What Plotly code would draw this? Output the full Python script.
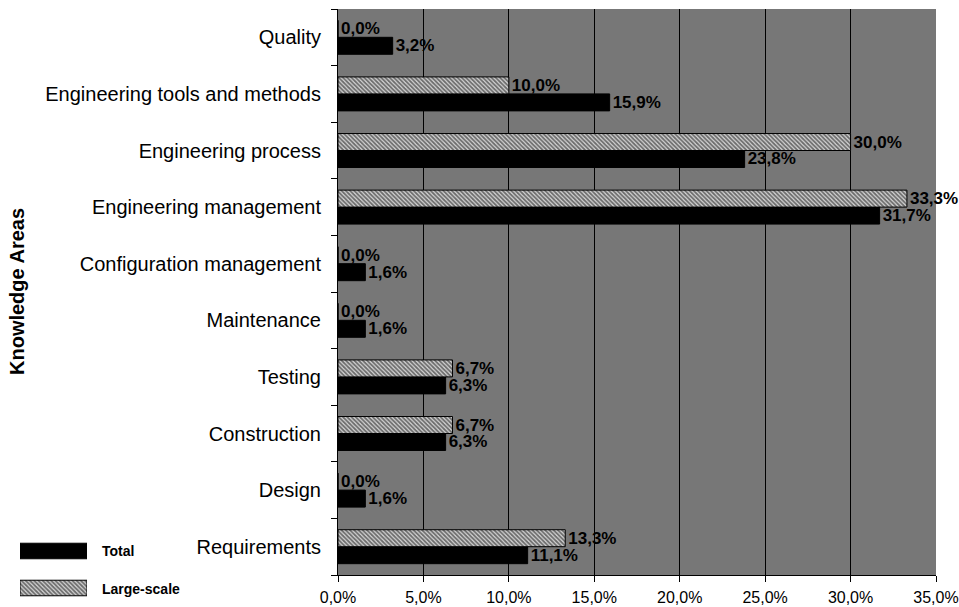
import plotly.graph_objects as go

# Knowledge areas, listed bottom to top
areas = [
    "Requirements",
    "Design",
    "Construction",
    "Testing",
    "Maintenance",
    "Configuration management",
    "Engineering management",
    "Engineering process",
    "Engineering tools and methods",
    "Quality",
]
total = [11.1, 1.6, 6.3, 6.3, 1.6, 1.6, 31.7, 23.8, 15.9, 3.2]
large_scale = [13.3, 0.0, 6.7, 6.7, 0.0, 0.0, 33.3, 30.0, 10.0, 0.0]
x_ticks = [0, 5, 10, 15, 20, 25, 30, 35]

FONT = "Liberation Sans, Arial, sans-serif"
W, H = 959, 607


def pct(v):
    return f"{v:.1f}%".replace(".", ",")


hatch = dict(shape="\\", size=3, solidity=0.6, fgcolor="black", bgcolor="#d8d8d8")
label_font = dict(family=FONT, size=17, color="black", weight="bold")

fig = go.Figure()
fig.add_trace(go.Bar(
    y=areas, x=total, orientation="h", name="Total",
    marker=dict(color="black", line=dict(color="black", width=1)),
    text=[pct(v) for v in total], textposition="outside",
    textfont=label_font, cliponaxis=False, constraintext="none",
))
fig.add_trace(go.Bar(
    y=areas, x=large_scale, orientation="h", name="Large-scale",
    marker=dict(color="#d8d8d8", pattern=hatch, line=dict(color="black", width=1)),
    text=[pct(v) for v in large_scale], textposition="outside",
    textfont=label_font, cliponaxis=False, constraintext="none",
))

# Legend swatches drawn as a tiny separate subplot
legend_names = ["Large-scale", "Total"]
fig.add_trace(go.Bar(
    y=["Large-scale"], x=[1], orientation="h", width=0.42,
    marker=dict(color="#d8d8d8", pattern=hatch, line=dict(color="black", width=1)),
    xaxis="x2", yaxis="y2", hoverinfo="skip",
))
fig.add_trace(go.Bar(
    y=["Total"], x=[1], orientation="h", width=0.42,
    marker=dict(color="black", line=dict(color="black", width=1)),
    xaxis="x2", yaxis="y2", hoverinfo="skip",
))

fig.update_layout(
    width=W, height=H,
    margin=dict(l=0, r=0, t=0, b=0, autoexpand=False),
    paper_bgcolor="white",
    plot_bgcolor="rgba(0,0,0,0)",
    barmode="group",
    bargap=0.4,
    bargroupgap=0,
    showlegend=False,
    font=dict(family=FONT, color="black"),
    xaxis=dict(
        domain=[338 / W, 936 / W],
        range=[0, 35],
        tickvals=x_ticks,
        ticktext=[pct(v) for v in x_ticks],
        tickfont=dict(size=16, family=FONT),
        showgrid=True, gridcolor="black", gridwidth=1,
        zeroline=False,
        showline=True, linecolor="black", linewidth=1,
        ticks="outside", ticklen=6, tickcolor="black",
        ticklabelstandoff=2,
        automargin=False, fixedrange=True,
    ),
    yaxis=dict(
        domain=[32 / H, 598 / H],
        categoryorder="array", categoryarray=areas,
        tickfont=dict(size=20, family=FONT),
        showgrid=False, zeroline=False,
        showline=True, linecolor="black", linewidth=1,
        ticks="outside", ticklen=6, tickcolor="black",
        tickson="boundaries",
        ticklabelstandoff=12,
        automargin=False, fixedrange=True,
    ),
    xaxis2=dict(
        domain=[20 / W, 87 / W], range=[0, 1],
        visible=False, fixedrange=True, anchor="y2", automargin=False,
    ),
    yaxis2=dict(
        domain=[0.5 / H, 74.5 / H],
        categoryorder="array", categoryarray=legend_names,
        visible=False, fixedrange=True, anchor="x2", automargin=False,
    ),
    shapes=[
        # gray plotting area, kept beneath the gridlines
        dict(type="rect", xref="x domain", yref="y domain",
             x0=0, x1=1, y0=0, y1=1, layer="below",
             fillcolor="#777777", line=dict(width=0)),
    ],
    annotations=[
        dict(text="<b>Knowledge Areas</b>", textangle=-90,
             x=17 / W, y=1 - 292 / H, xref="paper", yref="paper",
             xanchor="center", yanchor="middle",
             showarrow=False, font=dict(size=20, family=FONT)),
        dict(text="<b>Total</b>", x=100 / W, y=1 - 551 / H,
             xref="paper", yref="paper", xanchor="left", yanchor="middle",
             showarrow=False, font=dict(size=14, family=FONT)),
        dict(text="<b>Large-scale</b>", x=100 / W, y=1 - 589 / H,
             xref="paper", yref="paper", xanchor="left", yanchor="middle",
             showarrow=False, font=dict(size=14, family=FONT)),
    ],
)

fig.write_html("out.html")
